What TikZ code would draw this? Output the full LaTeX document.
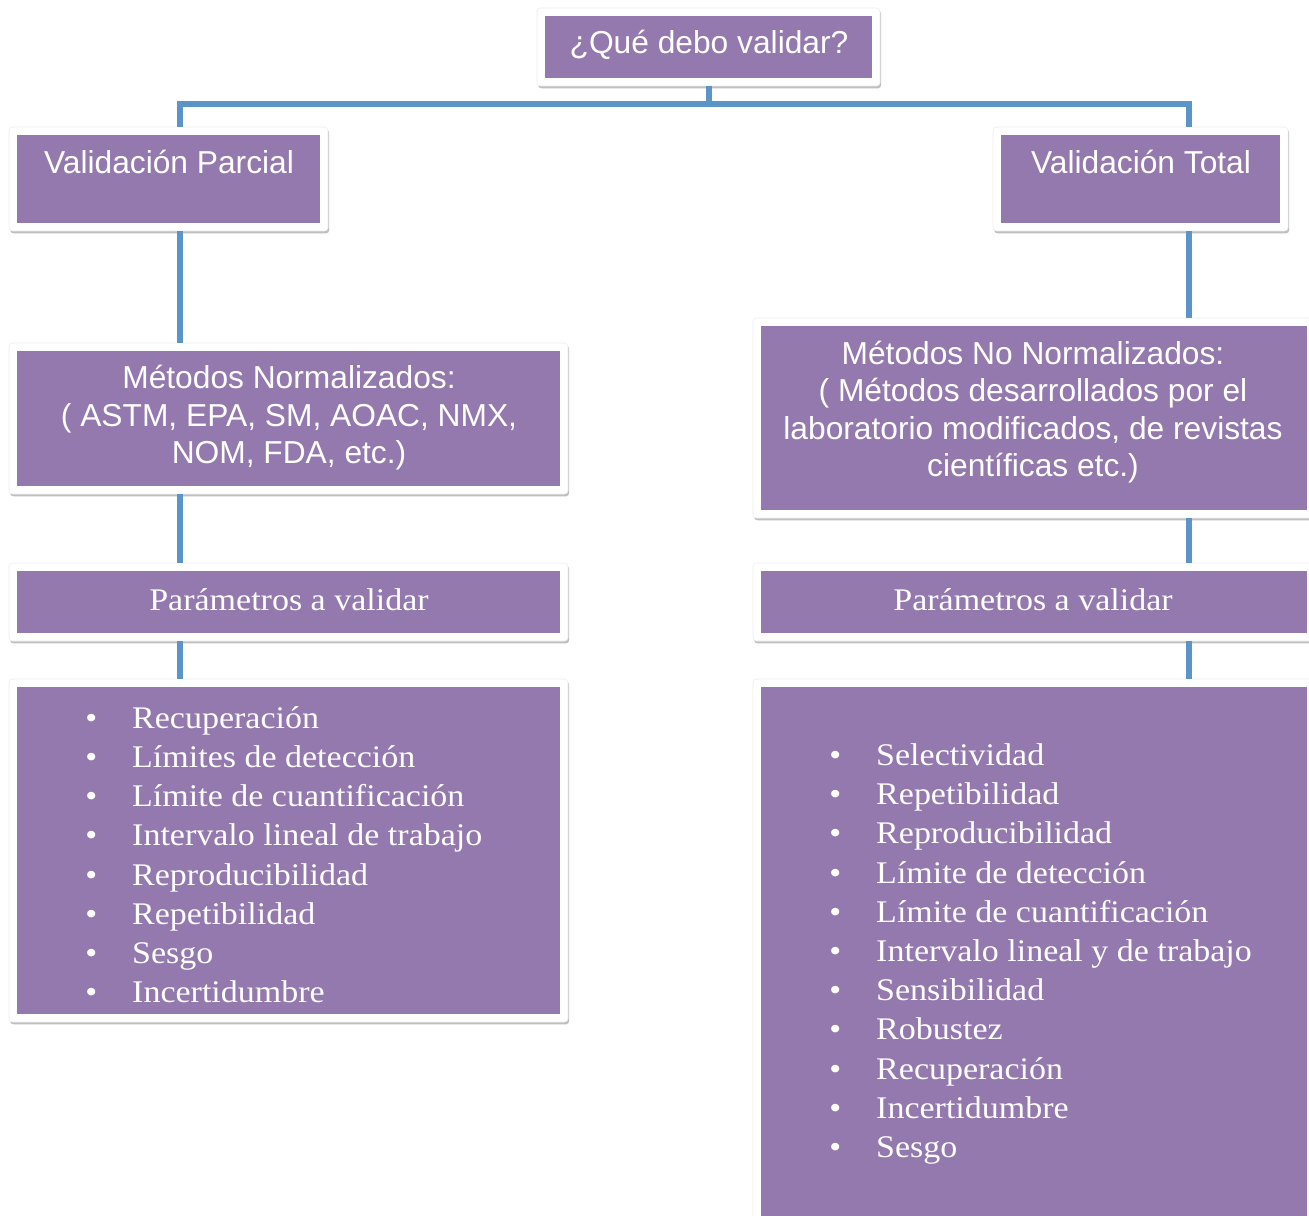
\documentclass[tikz,border=0pt]{standalone}
\usepackage{fontspec}
\setmainfont{Liberation Sans}
\newfontfamily\serifx[FakeStretch=1.08]{Liberation Serif}
\usetikzlibrary{fit,shadows}
\definecolor{boxpurple}{HTML}{9479AF}
\definecolor{connblue}{HTML}{5B95C8}
\tikzset{
  outerbox/.style={fill=white, draw=black!7, line width=0.4pt, rounded corners=2.5pt, inner sep=0pt,
    drop shadow={shadow xshift=0.9pt, shadow yshift=-1.8pt, fill=black, opacity=0.25}},
  innerbox/.style={fill=boxpurple, inner sep=0pt},
  sanstext/.style={text=white, font=\fontsize{23.8}{28.1}\selectfont, align=center, inner sep=0pt},
  seriftext/.style={text=white, font=\serifx\fontsize{23.6}{29.3}\selectfont, inner sep=0pt},
  conn/.style={draw=connblue, line width=4.5pt, line join=miter}
}
\newcommand\mybox[5]{%
  \node[outerbox, fit={(#2,#3)(#4,#5)}] (#1) {};
  \node[innerbox, fit={(#2+8,#3+8)(#4-8,#5-8)}] (#1-in) {};
}
\begin{document}
\begin{tikzpicture}[x=0.75pt, y=-0.75pt]
\useasboundingbox[fill=white] (0,0) rectangle (1309,1216);
% boxes
\mybox{top}{537}{8}{880}{86}
\mybox{parcial}{9}{127}{328}{231}
\mybox{total}{993}{127}{1288}{231}
\mybox{mn}{9}{343}{568}{494}
\mybox{mnn}{753}{318}{1315}{518}
\mybox{pl}{9}{563}{568}{641}
\mybox{pr}{753}{563}{1315}{641}
\mybox{ll}{9}{679}{568}{1022}
\mybox{lr}{753}{679}{1315}{1224}
% texts
\node[sanstext, anchor=base] (t-top) at (709,54) {¿Qué debo validar?};
\node[sanstext, anchor=base] (t-parcial) at (169,174) {Validación Parcial};
\node[sanstext, anchor=base] (t-total) at (1141,174) {Validación Total};
\node[sanstext] (t-mn) at (289,418) {Métodos Normalizados:\\( ASTM, EPA, SM, AOAC, NMX,\\NOM, FDA, etc.)};
\node[sanstext] (t-mnn) at (1033,412) {Métodos No Normalizados:\\( Métodos desarrollados por el\\laboratorio modificados, de revistas\\científicas etc.)};
\node[seriftext, anchor=base] (t-pl) at (289,610.5) {Parámetros a validar};
\node[seriftext, anchor=base] (t-pr) at (1033,610.5) {Parámetros a validar};
\foreach \t [count=\i] in {Recuperación, Límites de detección, Límite de cuantificación, Intervalo lineal de trabajo, Reproducibilidad, Repetibilidad, Sesgo, Incertidumbre}
  \node[seriftext, anchor=base west] (L\i) at (85, {728.5+(\i-1)*39.14}) {\makebox[35.25pt][l]{•}\t};
\foreach \t [count=\i] in {Selectividad, Repetibilidad, Reproducibilidad, Límite de detección, Límite de cuantificación, Intervalo lineal y de trabajo, Sensibilidad, Robustez, Recuperación, Incertidumbre, Sesgo}
  \node[seriftext, anchor=base west] (R\i) at (829, {765.5+(\i-1)*39.2}) {\makebox[35.25pt][l]{•}\t};
% connectors
\coordinate (busL) at (180,104);
\coordinate (busR) at (1189,104);
\draw[conn] (top.south) -- (top.south |- busL);
\draw[conn] (busL |- parcial.north) -- (busL) -- (busR) -- (busR |- total.north);
\draw[conn] (busL |- parcial.south) -- (busL |- mn.north);
\draw[conn] (busL |- mn.south) -- (busL |- pl.north);
\draw[conn] (busL |- pl.south) -- (busL |- ll.north);
\draw[conn] (busR |- total.south) -- (busR |- mnn.north);
\draw[conn] (busR |- mnn.south) -- (busR |- pr.north);
\draw[conn] (busR |- pr.south) -- (busR |- lr.north);
\end{tikzpicture}
\end{document}
